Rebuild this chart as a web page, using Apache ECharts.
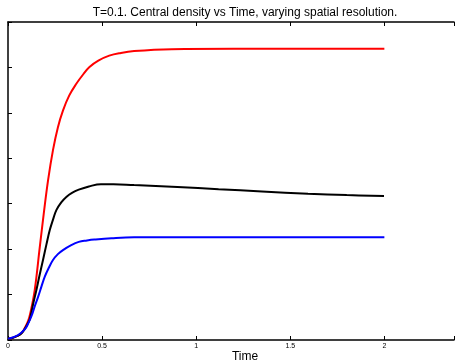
<!DOCTYPE html>
<html><head><meta charset="utf-8">
<script src="https://cdn.jsdelivr.net/npm/echarts@6/dist/echarts.min.js"></script>
<style>html,body{margin:0;padding:0;background:#fff;overflow:hidden}#c{width:457px;height:363px}</style>
</head><body><div id="c"></div>
<script>
const titleText = "T=0.1. Central density vs Time, varying spatial resolution.";
const xLabel = "Time";
const xTicks = [0, 0.5, 1, 1.5, 2];
const redT = [0, 0.02, 0.05, 0.072, 0.09, 0.107, 0.12, 0.142, 0.169, 0.19, 0.213, 0.239, 0.265, 0.292, 0.325, 0.363, 0.40, 0.433, 0.48, 0.538, 0.6, 0.67, 0.87, 1.2, 2.0];
const redV = [0.03, 0.04, 0.09, 0.15, 0.27, 0.42, 0.62, 1.10, 2.05, 2.78, 3.52, 4.18, 4.68, 5.05, 5.38, 5.64, 5.85, 6.01, 6.15, 6.26, 6.32, 6.36, 6.40, 6.41, 6.41];
const blackT = [0, 0.02, 0.05, 0.072, 0.09, 0.107, 0.116, 0.134, 0.151, 0.168, 0.186, 0.204, 0.222, 0.24, 0.257, 0.283, 0.31, 0.34, 0.376, 0.43, 0.494, 0.56, 0.67, 0.9, 1.119, 1.35, 1.594, 1.8, 1.998];
const blackV = [0.03, 0.04, 0.09, 0.15, 0.25, 0.38, 0.46, 0.80, 1.10, 1.43, 1.76, 2.10, 2.42, 2.66, 2.86, 3.03, 3.15, 3.24, 3.31, 3.38, 3.43, 3.43, 3.41, 3.37, 3.32, 3.27, 3.22, 3.19, 3.17];
const blueT = [0, 0.02, 0.054, 0.09, 0.107, 0.125, 0.142, 0.16, 0.178, 0.195, 0.217, 0.239, 0.265, 0.292, 0.336, 0.376, 0.42, 0.459, 0.55, 0.67, 0.9, 1.4, 2.0];
const blueV = [0.03, 0.05, 0.11, 0.24, 0.36, 0.53, 0.74, 0.95, 1.18, 1.39, 1.59, 1.76, 1.89, 1.98, 2.09, 2.16, 2.19, 2.21, 2.24, 2.26, 2.26, 2.26, 2.26];

const pairs = (t, v) => t.map((x, i) => [x, v[i]]);
const FONT = 'Liberation Sans, Arial, sans-serif';
const chart = echarts.init(document.getElementById('c'), null, {renderer: 'canvas', width: 457, height: 363});
const axisCommon = {
  type: 'value', min: 0, max: 2.37, interval: 0.5,
  axisLine: {show: true, onZero: false, lineStyle: {color: '#000', width: 1.5}},
  axisTick: {show: true, inside: true, length: 4, lineStyle: {color: '#000', width: 1}},
  splitLine: {show: false}
};
chart.setOption({
  animation: false,
  backgroundColor: '#fff',
  graphic: [
    {type: 'text', x: 245, y: 7, style: {text: titleText, textAlign: 'center', textVerticalAlign: 'top',
      font: '12px ' + FONT, fill: '#000'}},
    {type: 'text', x: 245, y: 351, style: {text: xLabel, textAlign: 'center', textVerticalAlign: 'top',
      font: '12px ' + FONT, fill: '#000'}}
  ],
  grid: {left: 8, width: 449, top: 22, height: 318, containLabel: false},
  xAxis: [
    Object.assign({}, axisCommon, {position: 'bottom',
      axisLabel: {show: true, fontSize: 7, color: '#000', margin: 3, fontFamily: FONT,
        formatter: v => xTicks.includes(v) ? String(v) : ''}}),
    Object.assign({}, axisCommon, {position: 'top', axisLabel: {show: false}})
  ],
  yAxis: {
    type: 'value', min: 0, max: 7, interval: 1,
    axisLine: {show: true, onZero: false, lineStyle: {color: '#000', width: 1.5}},
    axisTick: {show: true, inside: true, length: 4, lineStyle: {color: '#000', width: 1}},
    axisLabel: {show: false},
    splitLine: {show: false}
  },
  series: [
    {type: 'line', data: pairs(redT, redV), smooth: 0.4, showSymbol: false, lineStyle: {color: '#ff0000', width: 2}},
    {type: 'line', data: pairs(blackT, blackV), smooth: 0.4, showSymbol: false, lineStyle: {color: '#000000', width: 2}},
    {type: 'line', data: pairs(blueT, blueV), smooth: 0.4, showSymbol: false, lineStyle: {color: '#0000ff', width: 2}}
  ]
});
</script></body></html>
